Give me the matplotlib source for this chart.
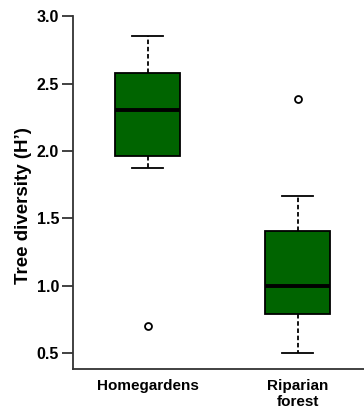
import matplotlib
matplotlib.use("Agg")
import matplotlib.pyplot as plt

categories = ["Homegardens", "Riparian\nforest"]
whisker_low = [1.87, 0.50]
q1 = [1.96, 0.79]
median = [2.30, 1.00]
q3 = [2.58, 1.405]
whisker_high = [2.85, 1.665]
outliers = [[0.70], [2.385]]
yticks = [0.5, 1.0, 1.5, 2.0, 2.5, 3.0]

plt.rcParams['font.family'] = ['Liberation Sans', 'DejaVu Sans']

fig = plt.figure(figsize=(3.64, 4.19), dpi=100)
ax = fig.add_axes([73/364, 50/419, 300/364, 369/419])

stats = []
for i, name in enumerate(categories):
    stats.append(dict(label=name, whislo=whisker_low[i], q1=q1[i], med=median[i],
                      q3=q3[i], whishi=whisker_high[i], fliers=outliers[i]))

ax.bxp(stats, positions=[1, 2], widths=0.43, patch_artist=True,
       boxprops=dict(facecolor="#006400", edgecolor="black", linewidth=1.3),
       medianprops=dict(color="black", linewidth=2.8),
       whiskerprops=dict(color="black", linewidth=1.3, linestyle=(0, (2.5, 1.5))),
       capprops=dict(color="black", linewidth=1.3),
       capwidths=0.21,
       flierprops=dict(marker="o", markersize=5, markerfacecolor="white",
                       markeredgecolor="black", markeredgewidth=1.3))

ax.set_xlim(0.502, 2.502)
ax.set_ylim(0.381, 3.12)
ax.set_yticks(yticks)
ax.set_yticklabels([f"{v:.1f}" for v in yticks], fontsize=11.5, fontweight="bold")
ax.set_xticks([1, 2])
ax.set_xticklabels(categories, fontsize=11, fontweight="bold", linespacing=1.2)
ax.tick_params(axis="x", length=0, pad=7)
ax.tick_params(axis="y", length=8, width=1.3, pad=2, color="#333333")
ax.set_ylabel("Tree diversity (H\u2019)", fontsize=13.5, fontweight="bold")
ax.yaxis.set_label_coords(-0.135, 0.442)

for s in ["top", "right"]:
    ax.spines[s].set_visible(False)
ax.spines["left"].set_bounds(0.381, 3.0)
ax.spines["left"].set_linewidth(1.3)
ax.spines["bottom"].set_linewidth(1.3)
ax.spines["left"].set_color("#333333")
ax.spines["bottom"].set_color("#333333")

fig.savefig("out.png", dpi=100)
